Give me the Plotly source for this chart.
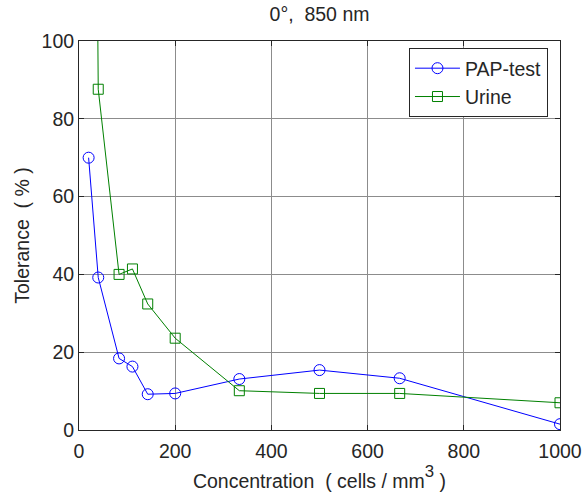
import plotly.graph_objects as go

pap_x = [20, 40, 83.3, 111.1, 142.9, 200, 333.3, 500, 666.7, 1000]
pap_y = [70.0, 39.2, 18.4, 16.3, 9.2, 9.4, 13.1, 15.4, 13.3, 1.5]

urine_x = [20, 40, 83.3, 111.1, 142.9, 200, 333.3, 500, 666.7, 1000]
urine_y = [400.0, 87.6, 40.0, 41.4, 32.4, 23.6, 10.1, 9.4, 9.4, 7.0]

x_ticks = [0, 200, 400, 600, 800, 1000]
y_ticks = [0, 20, 40, 60, 80, 100]

font = dict(family="Liberation Sans, Arial, sans-serif", size=19.5, color="#262626")

fig = go.Figure()
fig.add_trace(go.Scatter(
    x=pap_x, y=pap_y, name="PAP-test", mode="lines+markers",
    line=dict(color="#0000FF", width=1),
    marker=dict(symbol="circle-open", size=11, color="#0000FF", line=dict(width=1)),
))
fig.add_trace(go.Scatter(
    x=urine_x, y=urine_y, name="Urine", mode="lines+markers",
    line=dict(color="#008000", width=1),
    marker=dict(symbol="square-open", size=10, color="#008000", line=dict(width=1)),
))

axis_common = dict(
    showgrid=True, gridcolor="#8c8c8c", gridwidth=1,
    showline=True, linecolor="#262626", linewidth=1, mirror="ticks",
    ticks="inside", ticklen=5, tickcolor="#262626",
    zeroline=False, tickfont=font, automargin=False,
)

fig.update_layout(
    width=583, height=493,
    margin=dict(l=79, r=23, t=41, b=63),
    paper_bgcolor="white", plot_bgcolor="white",
    font=font,
    title=dict(text="0°,  850 nm", x=(79 + 560) / 2 / 583, xanchor="center",
               y=1 - 14 / 493, yanchor="middle", font=font),
    xaxis=dict(range=[0, 1000], tickvals=x_ticks, ticklabelstandoff=4,
               title=dict(text="Concentration  ( cells / mm<span style='font-size:24px'><sup>3</sup></span> )",
                          font=font, standoff=12),
               **axis_common),
    yaxis=dict(range=[0, 100], tickvals=y_ticks,
               title=dict(text="Tolerance  ( % )", font=font, standoff=6),
               **axis_common),
    legend=dict(x=0.975, y=0.982, xanchor="right", yanchor="top",
                bgcolor="white", bordercolor="#262626", borderwidth=1,
                font=font, tracegroupgap=0, itemwidth=45),
    showlegend=True,
)

fig.write_html("out.html")
